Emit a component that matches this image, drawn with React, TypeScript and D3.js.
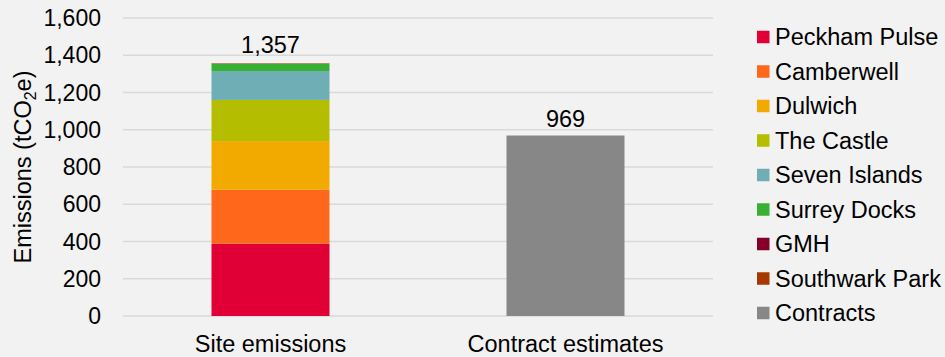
import React from "react";
import * as d3 from "d3";

const categories = ["Site emissions", "Contract estimates"];
const sites = [
  "Peckham Pulse",
  "Camberwell",
  "Dulwich",
  "The Castle",
  "Seven Islands",
  "Surrey Docks",
  "GMH",
  "Southwark Park",
];
const siteValues = [388, 290, 261, 221, 155, 39, 1, 2];
const contractValue = 969;
const siteColors = [
  "#e10036",
  "#ff671b",
  "#f2a900",
  "#b5bd00",
  "#6faeb5",
  "#38b034",
  "#85002a",
  "#a83700",
];
const contractColor = "#878787";
const yTicks = [0, 200, 400, 600, 800, 1000, 1200, 1400, 1600];

const W = 945;
const H = 357;
const FONT = "'Liberation Sans', Arial, sans-serif";
const FS = 23.5;

export default function App() {
  const x = d3
    .scaleBand<string>()
    .domain(categories)
    .range([123, 713])
    .paddingInner(0.6)
    .paddingOuter(0.3);
  const y = d3.scaleLinear().domain([0, 1600]).range([316, 18]);
  const fmt = d3.format(",");

  const rows = sites.map((s, i) => ({ key: s, value: siteValues[i] }));
  const stack = d3
    .stack<any>()
    .keys(sites)
    .value((d, k) => d[k]);
  const stacked = stack([
    Object.fromEntries(rows.map((r) => [r.key, r.value])),
  ]);
  const siteTotal = d3.sum(siteValues);

  const legendItems = [
    ...sites.map((s, i) => ({ name: s, color: siteColors[i] })),
    { name: "Contracts", color: contractColor },
  ];

  const bw = x.bandwidth();
  const siteX = x(categories[0])!;
  const conX = x(categories[1])!;

  return (
    <svg
      width={W}
      height={H}
      style={{ position: "absolute", left: 0, top: 0 }}
      fontFamily={FONT}
    >
      <rect width={W} height={H} fill="#f2f2f2" />
      {yTicks.map((t) => (
        <g key={t}>
          <line
            x1={123}
            x2={713}
            y1={y(t)}
            y2={y(t)}
            stroke="#d9d9d9"
            strokeWidth={1.5}
          />
          <text
            x={101}
            y={y(t)}
            dy="0.35em"
            textAnchor="end"
            fontSize={23}
            fill="#000"
          >
            {fmt(t)}
          </text>
        </g>
      ))}
      {stacked.map((layer, i) => (
        <rect
          key={sites[i]}
          x={siteX}
          width={bw}
          y={y(layer[0][1])}
          height={y(layer[0][0]) - y(layer[0][1])}
          fill={siteColors[i]}
        />
      ))}
      <rect
        x={conX}
        width={bw}
        y={y(contractValue)}
        height={y(0) - y(contractValue)}
        fill={contractColor}
      />
      <text
        x={siteX + bw / 2}
        y={y(siteTotal) - 10}
        textAnchor="middle"
        fontSize={FS}
      >
        {fmt(siteTotal)}
      </text>
      <text
        x={conX + bw / 2}
        y={y(contractValue) - 9}
        textAnchor="middle"
        fontSize={FS}
      >
        {fmt(contractValue)}
      </text>
      {categories.map((c) => (
        <text
          key={c}
          x={x(c)! + bw / 2}
          y={352}
          textAnchor="middle"
          fontSize={FS}
        >
          {c}
        </text>
      ))}
      <text
        transform="translate(31,167) rotate(-90)"
        textAnchor="middle"
        fontSize={FS}
      >
        Emissions (tCO
        <tspan fontSize={16} dy={5}>
          2
        </tspan>
        <tspan dy={-5}>e)</tspan>
      </text>
      {legendItems.map((d, i) => (
        <g key={d.name} transform={`translate(757,${37 + i * 34.5})`}>
          <rect x={0} y={-6.25} width={12.5} height={12.5} fill={d.color} />
          <text x={18} y={0} dy="0.36em" fontSize={FS}>
            {d.name}
          </text>
        </g>
      ))}
    </svg>
  );
}
